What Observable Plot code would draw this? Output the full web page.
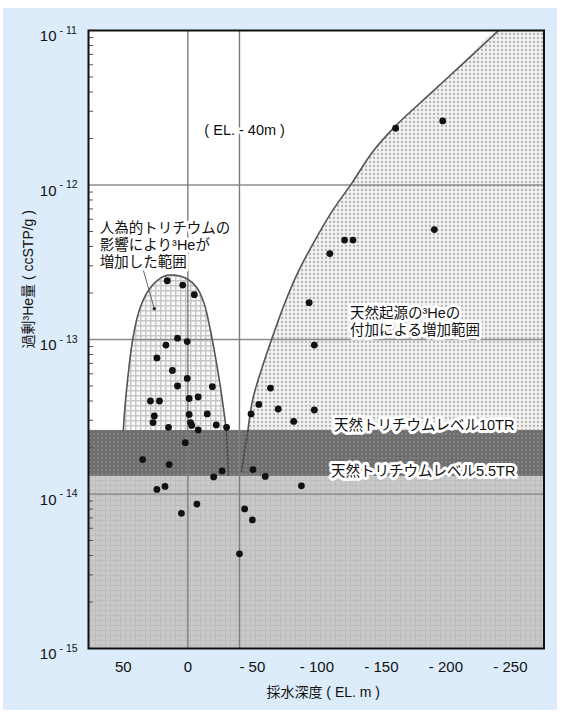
<!DOCTYPE html>
<html><head><meta charset="utf-8">
<script src="https://cdn.jsdelivr.net/npm/d3@7"></script>
<script src="https://cdn.jsdelivr.net/npm/@observablehq/plot@0.6"></script>
<style>
html,body{margin:0;padding:0;background:#fff;}
#panel{position:absolute;left:3px;top:8px;width:554px;height:702px;background:#dcecfa;}
#chart{position:absolute;left:0;top:0;}
</style></head><body>
<div id="panel"></div>
<svg width="0" height="0" style="position:absolute">
<defs>
<pattern id="pNat" width="4" height="4" patternUnits="userSpaceOnUse">
<rect width="4" height="4" fill="#f1f1f1"/>
<circle cx="2" cy="2" r="1.15" fill="#b4b4b4"/>
</pattern>
<pattern id="pHump" width="5" height="5" patternUnits="userSpaceOnUse">
<rect width="5" height="5" fill="#fafafa"/>
<path d="M0 0.7H5M0.7 0V5" stroke="#c6c6c6" stroke-width="1.5"/>
</pattern>
<pattern id="pBand" width="4" height="4" patternUnits="userSpaceOnUse">
<rect width="4" height="4" fill="#6e6e6e"/>
<circle cx="2" cy="2" r="1" fill="#8a8a8a"/>
</pattern>
<pattern id="pLow" width="5" height="5" patternUnits="userSpaceOnUse">
<rect width="5" height="5" fill="#c9c9c9"/>
<path d="M0 0.5H5M0.5 0V5" stroke="#bdbdbd" stroke-width="1"/>
</pattern>
</defs></svg>
<div id="chart"></div>
<script>
// ---- data ----
// sample depth (EL. m) and excess 3He (ccSTP/g)
const sampleDepth = [16, 4, -5, 8, 0.5, 17, 24, 12, 0.5, 8, -19, 29, 22, -1, -8, 26, -1, -15, 27, -2,
  15, -3, -22, -30, -8, 2, 35, 14.5, -26.5, -20, -50.5, 17.7, 24, -7, 5, -44, -50, -40,
  -98, -64, -55, -49, -70, -98, -82, -60, -88, -161, -197.5, -191, -121.5, -128, -110, -94];
const sampleHe = [2.4e-13, 2.25e-13, 1.95e-13, 1.02e-13, 9.7e-14, 9.2e-14, 7.6e-14, 6.3e-14, 5.6e-14, 5.0e-14,
  4.95e-14, 4.0e-14, 4.0e-14, 4.15e-14, 4.25e-14, 3.2e-14, 3.27e-14, 3.3e-14, 2.9e-14, 2.9e-14,
  2.7e-14, 2.78e-14, 2.8e-14, 2.7e-14, 2.6e-14, 2.15e-14, 1.67e-14, 1.55e-14, 1.41e-14, 1.29e-14,
  1.44e-14, 1.12e-14, 1.07e-14, 8.6e-15, 7.5e-15, 8.0e-15, 6.8e-15, 4.1e-15,
  9.2e-14, 4.85e-14, 3.8e-14, 3.3e-14, 3.55e-14, 3.5e-14, 2.95e-14, 1.3e-14, 1.13e-14,
  2.33e-12, 2.6e-12, 5.15e-13, 4.4e-13, 4.4e-13, 3.6e-13, 1.73e-13];

// boundary of the range raised by anthropogenic tritium
const humpDepth = [50, 48.3, 42.5, 36.9, 29.5, 18.9, 10.4, 1.0, -6.9, -12.6, -17, -21.5, -26, -29.8];
const humpHe = [2.58e-14, 4.03e-14, 1.03e-13, 1.61e-13, 2.14e-13, 2.56e-13, 2.61e-13, 2.48e-13, 2.17e-13,
  1.71e-13, 1.2e-13, 7.6e-14, 4.47e-14, 2.6e-14];
const humpTailDepth = [-29.8, -31.5];
const humpTailHe = [2.6e-14, 1.32e-14];

// boundary of the range raised by natural 3He
const naturalDepth = [-240.9, -214.4, -189.2, -161.4, -143.0, -127.5, -111.4, -97.7, -85.4, -74.4, -65.1, -56.4, -50.4, -47.0, -46.6];
const naturalHe = [1e-11, 6.24e-12, 3.99e-12, 2.43e-12, 1.63e-12, 1.04e-12, 6.67e-13, 4.27e-13, 2.73e-13,
  1.66e-13, 1.01e-13, 6.15e-14, 4.13e-14, 2.77e-14, 2.58e-14];
const naturalTailDepth = [-46.6, -43.7, -41.5];
const naturalTailHe = [2.58e-14, 1.83e-14, 1.38e-14];

// natural tritium levels (10TR, 5.5TR)
const tritium10 = 2.58e-14;
const tritium55 = 1.3e-14;

// leader from the left label
const leaderDepth = [35.3, 26];
const leaderHe = [2.97e-13, 1.58e-13];

// reference lines and ticks
const refDepths = [0, -40];
const gridHe = [1e-12, 1e-13, 1e-14];
const yTicks = [1e-11, 1e-12, 1e-13, 1e-14, 1e-15];
const yTickExp = ["- 11", "- 12", "- 13", "- 14", "- 15"];
const minorHe = [1e-15, 1e-14, 1e-13, 1e-12].flatMap(b => [2,3,4,5,6,7,8,9].map(k => k * b));
const xTicks = [50, 0, -50, -100, -150, -200, -250];

const labels = [
  {depth: -44, he: 2.25e-12, text: "( EL. - 40m )", anchor: "middle"},
  {depth: 68.2, he: 4.12e-13, text: "人為的トリチウムの\n影響により³Heが\n増加した範囲", anchor: "start"},
  {depth: -125.6, he: 1.318e-13, text: "天然起源の³Heの\n付加による増加範囲", anchor: "start"},
  {depth: -113.2, he: 2.82e-14, text: "天然トリチウムレベル10TR", anchor: "start"},
  {depth: -110.9, he: 1.42e-14, text: "天然トリチウムレベル5.5TR", anchor: "start"}
];

// ---- build ----
const zip = (xs, ys) => xs.map((d, i) => ({depth: d, he: ys[i]}));
const samples = zip(sampleDepth, sampleHe);
const hump = zip(humpDepth, humpHe);
const natural = zip(naturalDepth, naturalHe);
const xDomain = [77, -276];
const yDomain = [1e-15, 1e-11];
const naturalArea = [{depth: xDomain[1], he: yDomain[1]}, ...natural];
const font = "'Liberation Sans', 'Noto Sans CJK JP', sans-serif";
const fmtX = d => d > 0 ? String(d) : d === 0 ? "0" : "- " + (-d);
const W = 564, H = 712, ML = 88, MR = 20.5;

const chart = Plot.plot({
  width: W, height: H,
  marginLeft: ML, marginRight: MR, marginTop: 30, marginBottom: 64,
  style: {background: "transparent", fontFamily: font, overflow: "visible", color: "#111"},
  x: {domain: xDomain, axis: null},
  y: {type: "log", domain: yDomain, axis: null},
  marks: [
    Plot.frame({fill: "white"}),
    Plot.rect([{lo: yDomain[0], hi: tritium55}], {y1: "lo", y2: "hi", fill: "url(#pLow)"}),
    Plot.rect([{lo: tritium55, hi: tritium10}], {y1: "lo", y2: "hi", fill: "url(#pBand)"}),
    Plot.areaY(naturalArea, {x: "depth", y1: () => tritium10, y2: "he", fill: "url(#pNat)", curve: "catmull-rom", clip: true}),
    Plot.areaY(hump, {x: "depth", y1: () => tritium10, y2: "he", fill: "url(#pHump)", curve: "catmull-rom"}),
    Plot.ruleY(gridHe, {stroke: "#8c8c8c", strokeWidth: 1.4}),
    Plot.ruleX(refDepths, {stroke: "#7c7c7c", strokeWidth: 1.4}),
    Plot.line(hump, {x: "depth", y: "he", curve: "catmull-rom", stroke: "#555", strokeWidth: 1.6}),
    Plot.line(natural, {x: "depth", y: "he", curve: "catmull-rom", stroke: "#555", strokeWidth: 1.6, clip: true}),
    Plot.line(zip(humpTailDepth, humpTailHe), {x: "depth", y: "he", stroke: "#444", strokeWidth: 1.4, strokeDasharray: "2,2"}),
    Plot.line(zip(naturalTailDepth, naturalTailHe), {x: "depth", y: "he", stroke: "#444", strokeWidth: 1.4, strokeDasharray: "2,2"}),
    Plot.line(zip(leaderDepth, leaderHe), {x: "depth", y: "he", stroke: "#666", strokeWidth: 1}),
    Plot.dot(zip(leaderDepth, leaderHe).slice(-1), {x: "depth", y: "he", r: 1.8, fill: "#333"}),
    Plot.tickY(minorHe, {y: d => d, stroke: "#555", strokeWidth: 1, insetRight: (W - ML - MR) - 5}),
    Plot.dot(samples, {x: "depth", y: "he", r: 3.4, fill: "#111"}),
    Plot.text(labels, {x: "depth", y: "he", text: "text", textAnchor: "start",
      filter: d => d.anchor === "start", fontSize: 14.5, lineHeight: 1.17, fill: "#111",
      stroke: "white", strokeWidth: 6, fontFamily: font}),
    Plot.text(labels, {x: "depth", y: "he", text: "text", textAnchor: "middle",
      filter: d => d.anchor === "middle", fontSize: 14.5, fill: "#111",
      stroke: "white", strokeWidth: 5, fontFamily: font}),
    Plot.frame({stroke: "#111", strokeWidth: 2}),
    Plot.text(yTicks, {y: d => d, frameAnchor: "left", text: () => "10", textAnchor: "end", dx: -32, dy: 6, fontSize: 15, fill: "#111"}),
    Plot.text(yTicks, {y: d => d, frameAnchor: "left", text: (d, i) => yTickExp[i], textAnchor: "start", dx: -29, dy: 0, fontSize: 10.5, fill: "#111"}),
    Plot.axisX(xTicks, {tickSize: 0, tickPadding: 13, tickFormat: fmtX, fontSize: 15, fill: "#111", label: null}),
    Plot.text(["採水深度 ( EL. m )"], {frameAnchor: "bottom", lineAnchor: "middle", dx: 7, dy: 44, text: d => d, fontSize: 14, fill: "#111"}),
    Plot.text(["過剰³He量 ( ccSTP/g )"], {frameAnchor: "left", lineAnchor: "middle", rotate: -90, dx: -60, dy: 9, text: d => d, fontSize: 14, fill: "#111"})
  ]
});
document.getElementById("chart").appendChild(chart);
</script>
</body></html>
